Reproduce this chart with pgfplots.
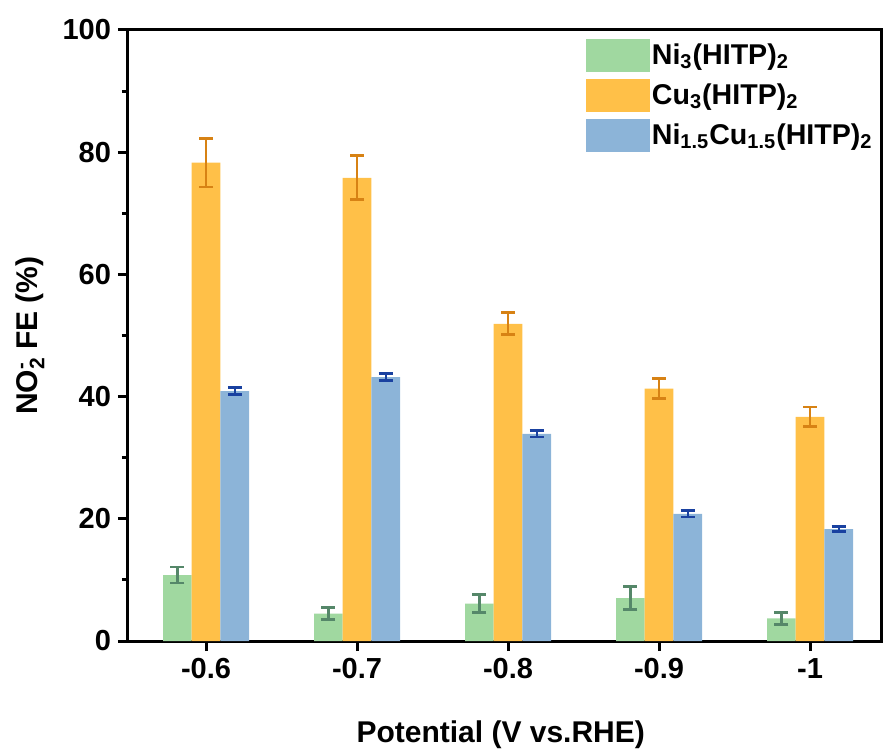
\documentclass[border=0pt]{standalone}
\usepackage{pgfplots}
\pgfplotsset{compat=1.18}
\usepackage{fontspec}
\setmainfont{Liberation Sans}

\definecolor{cgreen}{RGB}{160,216,160}
\definecolor{corange}{RGB}{255,192,72}
\definecolor{cblue}{RGB}{140,180,216}
\definecolor{egreen}{RGB}{85,135,105}
\definecolor{eorange}{RGB}{215,130,20}
\definecolor{eblue}{RGB}{25,65,160}

\pgfplotsset{
  swatch/.style={legend image code/.code={\fill[##1] (0pt,-8.25pt) rectangle (32pt,8.25pt);}},
}

\begin{document}
\begin{tikzpicture}
\path (-64pt,-55pt) rectangle (379pt,320.5pt);
\begin{axis}[
  name=ax,
  at={(0,0)}, anchor=south west,
  scale only axis,
  width=376.5pt, height=305.5pt,
  xmin=-0.517, xmax=4.47,
  ymin=0, ymax=100,
  xtick={0,1,2,3,4},
  xticklabels={-0.6,-0.7,-0.8,-0.9,-1},
  ytick={0,20,40,60,80,100},
  minor y tick num=1,
  xtick pos=bottom, ytick pos=left,
  tick align=outside,
  major tick length=5pt,
  minor tick length=3pt,
  axis line style={line width=1.5pt},
  every tick/.style={black, line width=1.5pt},
  /pgf/number format/assume math mode=true,
  ticklabel style={font=\fontsize{14.5}{16}\selectfont\bfseries},
  xlabel={Potential (V vs.RHE)},
  ylabel={NO\makebox[0pt][l]{\raisebox{5pt}{\fontsize{10}{10}\selectfont -}}\raisebox{-3.5pt}{\fontsize{10.5}{10}\selectfont 2} FE (\%)},
  label style={font=\fontsize{15}{18}\selectfont\bfseries},
  xlabel style={at={(axis description cs:0.495,-0.154)}, anchor=center},
  ylabel style={at={(axis description cs:-0.13,0.5)}, anchor=center},
  legend style={at={(axis description cs:1.0,0.992)}, anchor=north east,
    draw=none, fill=none, font=\fontsize{14.3}{16}\selectfont\bfseries,
    row sep=3.5pt, nodes={inner sep=1pt}},
  legend cell align=left,
  ybar, bar width=0.19,
]
\addplot[fill=cgreen, draw=none, bar shift=-0.19, swatch,
  error bars/.cd, y dir=both, y explicit,
  error bar style={egreen, line width=1.2pt},
  error mark options={egreen, line width=1.4pt, mark size=3.5pt, rotate=90}]
  coordinates {
  (0,10.8) +- (0,1.3)
  (1,4.5) +- (0,1.0)
  (2,6.1) +- (0,1.5)
  (3,7.0) +- (0,1.9)
  (4,3.7) +- (0,1.0)};
\addlegendentry{Ni\textsubscript{3}(HITP)\textsubscript{2}}
\addplot[fill=corange, draw=none, bar shift=0, swatch,
  error bars/.cd, y dir=both, y explicit,
  error bar style={eorange, line width=1.2pt},
  error mark options={eorange, line width=1.4pt, mark size=3.5pt, rotate=90}]
  coordinates {
  (0,78.3) +- (0,4.0)
  (1,75.8) +- (0,3.6)
  (2,51.9) +- (0,1.8)
  (3,41.3) +- (0,1.6)
  (4,36.7) +- (0,1.6)};
\addlegendentry{Cu\textsubscript{3}(HITP)\textsubscript{2}}
\addplot[fill=cblue, draw=none, bar shift=0.19, swatch,
  error bars/.cd, y dir=both, y explicit,
  error bar style={eblue, line width=1.2pt},
  error mark options={eblue, line width=1.4pt, mark size=3.5pt, rotate=90}]
  coordinates {
  (0,40.9) +- (0,0.6)
  (1,43.2) +- (0,0.6)
  (2,33.9) +- (0,0.5)
  (3,20.8) +- (0,0.5)
  (4,18.3) +- (0,0.4)};
\addlegendentry{Ni\textsubscript{1.5}Cu\textsubscript{1.5}(HITP)\textsubscript{2}}
\end{axis}
% top and right frame as filled strips
\fill[black] (-0.75pt,304.75pt) rectangle (377.25pt,306.25pt);
\fill[black] (375.75pt,-0.75pt) rectangle (377.25pt,306.25pt);
\end{tikzpicture}
\end{document}
